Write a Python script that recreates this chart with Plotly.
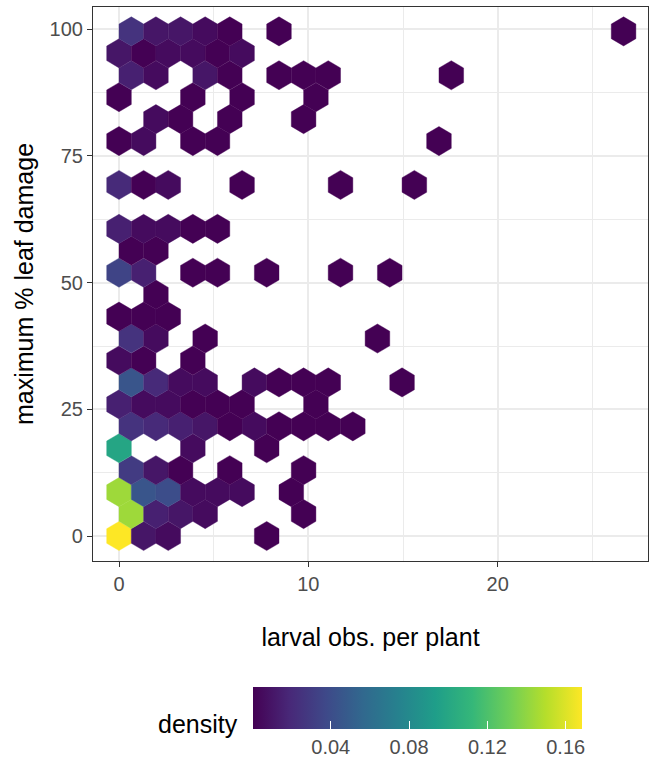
import math
import plotly.graph_objects as go
from plotly.colors import sample_colorscale

# ---------------- data (hexbin cells) ----------------
# hex bin centres: larval obs. per plant (x) and maximum % leaf damage (y), with counts per cell
larval = [
    0, 1.3, 2.6, 7.8,
    0.65, 1.95, 3.25, 4.55, 9.75,
    0, 1.3, 2.6, 3.9, 5.2, 6.5, 9.1,
    0.65, 1.95, 3.25, 5.85, 9.75,
    0, 3.9, 7.8,
    0.65, 1.95, 3.25, 4.55, 5.85, 7.15, 8.45, 9.75, 11.05, 12.35,
    0, 1.3, 2.6, 3.9, 5.2, 6.5, 10.4,
    0.65, 1.95, 3.25, 4.55, 7.15, 8.45, 9.75, 11.05, 14.95,
    0, 1.3, 3.9,
    0.65, 1.95, 4.55, 13.65,
    0, 1.3, 2.6,
    1.95,
    0, 1.3, 3.9, 5.2, 7.8, 11.7, 14.3,
    0.65, 1.95,
    0, 1.3, 2.6, 3.9, 5.2,
    0, 1.3, 2.6, 6.5, 11.7, 15.6,
    0, 1.3, 3.9, 5.2, 16.9,
    1.95, 3.25, 5.85, 9.75,
    0, 3.9, 6.5, 10.4,
    0.65, 1.95, 4.55, 5.85, 8.45, 9.75, 11.05, 17.55,
    0, 1.3, 2.6, 3.9, 5.2, 6.5,
    0.65, 1.95, 3.25, 4.55, 5.85, 8.45, 26.65,
]
damage = (
    [0.0] * 4 + [4.33] * 5 + [8.66] * 7 + [12.99] * 5 + [17.32] * 3
    + [21.65] * 10 + [25.98] * 7 + [30.31] * 9 + [34.64] * 3 + [38.97] * 4
    + [43.30] * 3 + [47.63] * 1 + [51.96] * 7 + [56.29] * 2 + [60.62] * 5
    + [69.28] * 6 + [77.94] * 5 + [82.27] * 4 + [86.60] * 4 + [90.93] * 8
    + [95.26] * 6 + [99.59] * 7
)
counts = [
    35, 3, 2, 1,
    30, 4, 3, 2, 1,
    30, 10, 9, 2, 2, 2, 1,
    7, 3, 1, 1, 1,
    21, 2, 1,
    6, 5, 4, 3, 1, 2, 1, 1, 1, 1,
    4, 2, 2, 1, 1, 1, 1,
    10, 5, 2, 2, 2, 1, 1, 1, 1,
    2, 1, 1,
    6, 2, 1, 1,
    1, 1, 1,
    1,
    8, 4, 1, 1, 1, 1, 1,
    1, 1,
    4, 2, 2, 1, 1,
    5, 1, 2, 1, 1, 1,
    1, 2, 1, 1, 1,
    2, 1, 1, 1,
    1, 1, 1, 1,
    4, 2, 3, 1, 1, 1, 1, 1,
    3, 1, 2, 2, 1, 2,
    6, 3, 3, 2, 1, 1, 1,
]
N_TOTAL = 213
density = [c / N_TOTAL for c in counts]

x_ticks = [0, 10, 20]
y_ticks = [0, 25, 50, 75, 100]
cb_ticks = [0.04, 0.08, 0.12, 0.16]
cb_ticklabels = ["0.04", "0.08", "0.12", "0.16"]

# bin widths (ggplot stat_binhex)
BW_X = 1.3
BW_Y = 5.0

# ---------------- build figure ----------------
FONT = "Liberation Sans, Arial, Helvetica, sans-serif"
lo, hi = min(density), max(density)

row_step = BW_Y * math.sqrt(3) / 2
hx = BW_X / 2
hy = row_step / math.sqrt(3) / 2 * 1.15
off_x = [hx, 0, -hx, -hx, 0, hx, hx]
off_y = [hy, 2 * hy, hy, -hy, -2 * hy, -hy, hy]

fig = go.Figure()
for cx, cy, d in zip(larval, damage, density):
    t = (d - lo) / (hi - lo)
    col = sample_colorscale("Viridis", [t])[0]
    fig.add_trace(go.Scatter(
        x=[cx + o for o in off_x], y=[cy + o for o in off_y],
        mode="lines", fill="toself", fillcolor=col,
        line=dict(width=0.4, color=col),
        hoverinfo="skip", showlegend=False,
    ))

# colour bar (ggplot legend: ticks rescaled into [0.5, nbin-0.5]/nbin, nbin = 20)
pad = 0.5 / 20
span = (hi - lo) / (1 - 2 * pad)
cb_min = lo - pad * span
cb_max = hi + pad * span

fig.add_trace(go.Scatter(
    x=[None], y=[None], mode="markers", showlegend=False, hoverinfo="skip",
    marker=dict(
        color=[lo], cmin=cb_min, cmax=cb_max, colorscale="Viridis", showscale=True,
        colorbar=dict(
            orientation="h", thicknessmode="pixels", thickness=41.6,
            lenmode="pixels", len=329.4,
            xref="paper", yref="container",
            x=0.5854, xanchor="center", y=0.0929, yanchor="top",
            xpad=0, ypad=0, outlinewidth=0,
            tickvals=cb_ticks, ticktext=cb_ticklabels,
            ticks="inside", ticklen=8, tickwidth=1, tickcolor="white",
            tickfont=dict(family=FONT, size=20, color="#4D4D4D"),
        ),
    ),
))

fig.add_annotation(
    text="density", xref="paper", yref="paper", x=0.2645, y=-0.294,
    xanchor="right", yanchor="middle", showarrow=False,
    font=dict(family=FONT, size=25, color="black"),
)

axis_common = dict(
    showgrid=True, gridcolor="#EBEBEB", gridwidth=1.5,
    zeroline=False, showline=True, mirror=True,
    linecolor="#333333", linewidth=1.2,
    ticks="outside", ticklen=5, tickwidth=1.2, tickcolor="#333333",
    tickfont=dict(family=FONT, size=20, color="#4D4D4D"),
    automargin=False,
)

fig.update_xaxes(
    range=[-1.374, 27.94], tickvals=x_ticks,
    minor=dict(tickvals=[5, 15, 25], showgrid=True, gridcolor="#EBEBEB", gridwidth=0.75, ticks=""),
    title=dict(text="larval obs. per plant", font=dict(family=FONT, size=25, color="black"), standoff=34),
    **axis_common,
)
fig.update_yaxes(
    range=[-4.93, 104.4], tickvals=y_ticks,
    minor=dict(tickvals=[12.5, 37.5, 62.5, 87.5], showgrid=True, gridcolor="#EBEBEB", gridwidth=0.75, ticks=""),
    title=dict(text="maximum % leaf damage", font=dict(family=FONT, size=25, color="black"), standoff=8),
    **axis_common,
)

fig.update_layout(
    width=653, height=757,
    margin=dict(l=93, r=5, t=7, b=196, autoexpand=False),
    paper_bgcolor="white", plot_bgcolor="white",
    font=dict(family=FONT),
)

fig.write_html("out.html", config={"displayModeBar": False},
               post_script="document.body.style.margin='0px';")
